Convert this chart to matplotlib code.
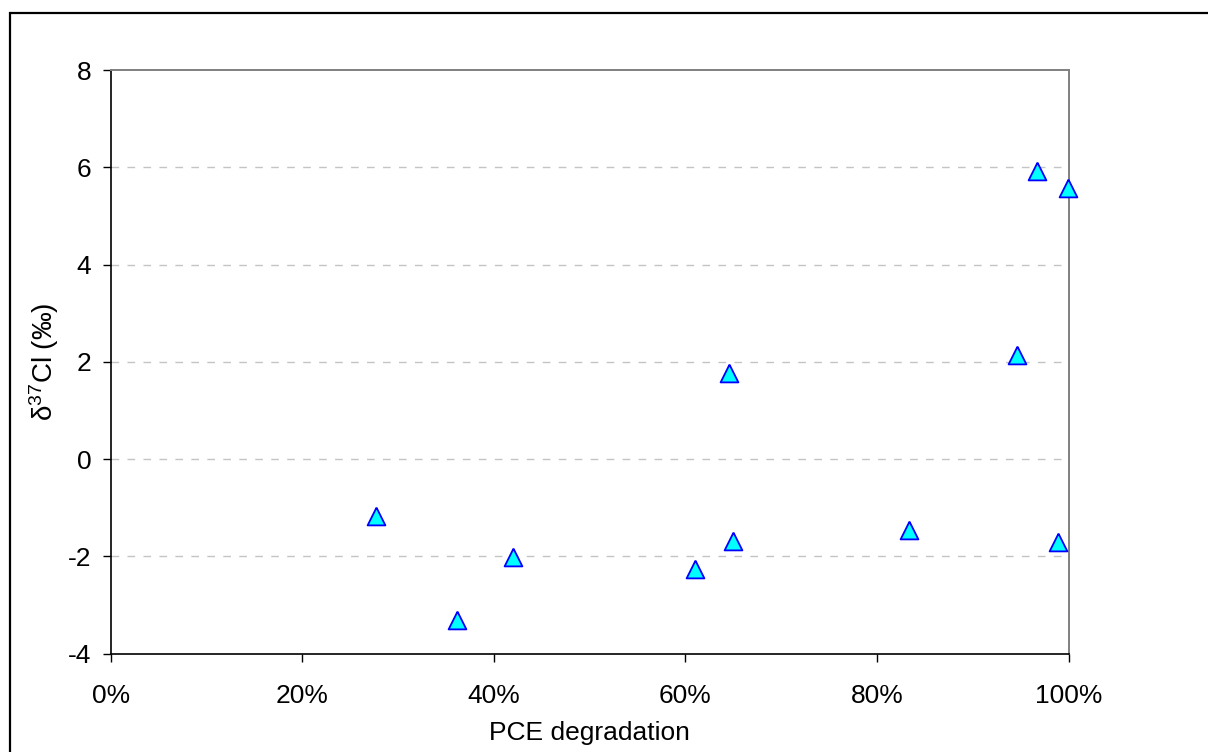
import matplotlib
matplotlib.use("Agg")
import matplotlib.pyplot as plt
from matplotlib.patches import Rectangle
from matplotlib.ticker import FuncFormatter

plt.rcParams['font.family'] = ['Liberation Sans', 'DejaVu Sans']
plt.rcParams['mathtext.fontset'] = 'custom'
plt.rcParams['mathtext.rm'] = 'Liberation Sans'
plt.rcParams['mathtext.it'] = 'Liberation Sans'
plt.rcParams['axes.unicode_minus'] = False

# PCE degradation (fraction) and chlorine isotope signature (per mil)
pce_degradation = [0.277, 0.362, 0.420, 0.610, 0.646, 0.650, 0.833, 0.946, 0.967, 0.989, 0.999]
delta37cl = [-1.17, -3.30, -2.02, -2.27, 1.76, -1.69, -1.45, 2.13, 5.92, -1.71, 5.57]

x_ticks = [0.0, 0.2, 0.4, 0.6, 0.8, 1.0]
y_ticks = [-4, -2, 0, 2, 4, 6, 8]

W, H = 1208, 752
fig = plt.figure(figsize=(W / 100, H / 100), dpi=100)
ax = fig.add_axes([110.6 / W, 1 - 653.6 / H, (1068.5 - 110.6) / W, (653.6 - 70) / H])

# chart frame
fig.patches.append(Rectangle((10 / W, -0.2), 1.5, (1 - 12.7 / H) + 0.2,
                             transform=fig.transFigure, fill=False,
                             edgecolor='black', linewidth=1.6))

for y in y_ticks[1:-1]:
    ax.axhline(y, color='#c4c4c4', linewidth=1.0, linestyle=(0, (5.5, 6)), zorder=1)

# triangle whose bounding box is centred on the data point
tri = [(0, 1), (-1, -1), (1, -1), (0, 1)]
ax.plot(pce_degradation, delta37cl, linestyle='none', marker=tri,
        markersize=12.8, markerfacecolor='#00ffff', markeredgecolor='#0000ff',
        markeredgewidth=1.3, zorder=3, clip_on=False)

ax.set_xlim(0, 1)
ax.set_ylim(-4, 8)
ax.set_xticks(x_ticks)
ax.set_yticks(y_ticks)
ax.xaxis.set_major_formatter(FuncFormatter(lambda v, p: f"{v * 100:.0f}%"))

for side in ('left', 'bottom'):
    ax.spines[side].set_color('black')
    ax.spines[side].set_linewidth(1.2)
for side in ('top', 'right'):
    ax.spines[side].set_color('#808080')
    ax.spines[side].set_linewidth(1.4)

ax.tick_params(axis='both', direction='out', length=6, width=1.0, color='black',
               labelsize=19, labelcolor='black')
ax.tick_params(axis='y', pad=8)
ax.tick_params(axis='x', pad=16)

ax.set_xlabel('PCE degradation', fontsize=19, labelpad=9)
ax.set_ylabel(r'δ$^{\mathregular{37}}$Cl (‰)', fontsize=20, labelpad=5)

fig.savefig('out.png', dpi=100)
